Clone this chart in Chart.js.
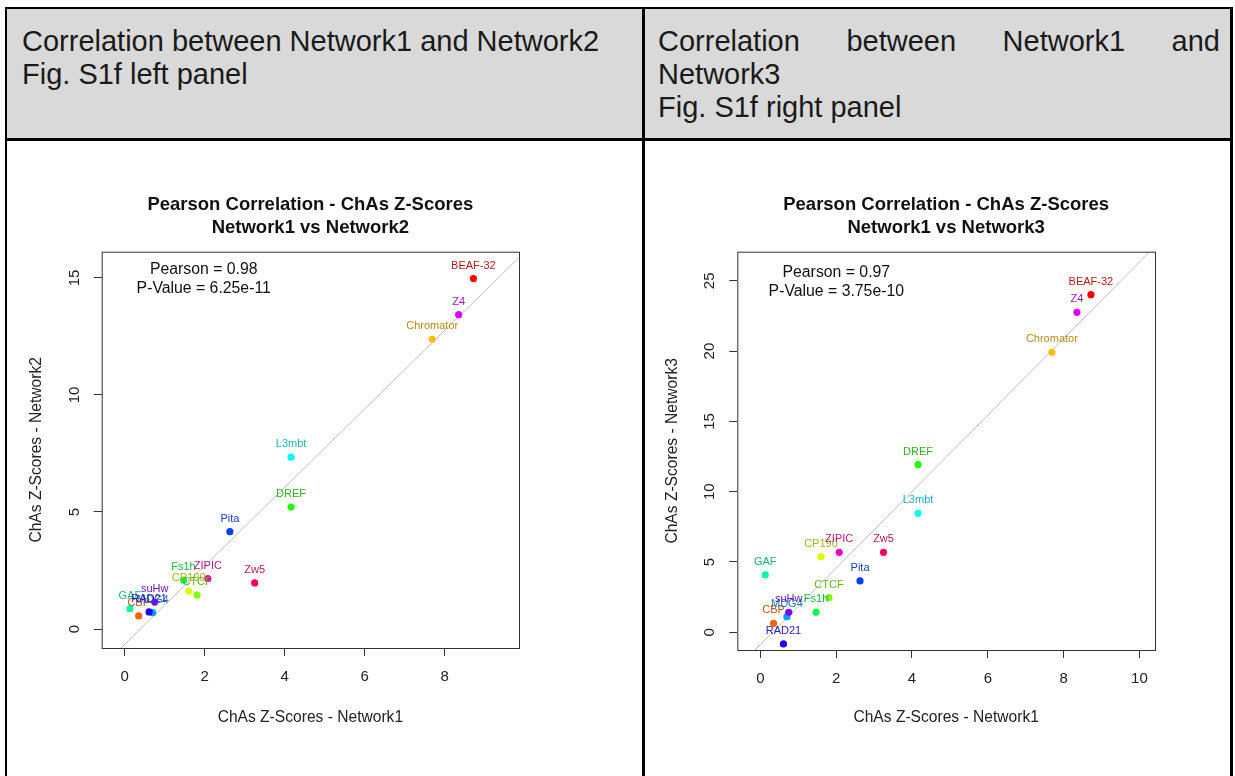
<!DOCTYPE html>
<html>
<head>
<meta charset="utf-8">
<script src="https://cdn.jsdelivr.net/npm/chart.js@4.4.1/dist/chart.umd.min.js"></script>
<style>
  body { margin: 0; background: #fff; width: 1235px; height: 776px; overflow: hidden; position: relative;
         font-family: "Liberation Sans", Arial, sans-serif; }
  .rule { position: absolute; background: #000; }
  .head { position: absolute; top: 9px; height: 129px; background: #d9d9d9; }
  .htxt { position: absolute; top: 25px; font-size: 29px; line-height: 33px; color: #1a1a1a; }
  .cell { position: absolute; top: 141px; height: 635px; }
</style>
</head>
<body>
<div class="head" style="left:7px;width:635px"></div>
<div class="head" style="left:645px;width:585px"></div>
<div class="htxt" style="left:22px;width:615px">Correlation between Network1 and Network2<br>Fig. S1f left panel</div>
<div class="htxt" style="left:658px;width:562px;text-align:justify">Correlation between Network1 and Network3<br>Fig. S1f right panel</div>

<div class="cell" style="left:7px;width:635px"><canvas id="chartLeft"></canvas></div>
<div class="cell" style="left:645px;width:585px"><canvas id="chartRight"></canvas></div>

<div class="rule" style="left:5px;top:7px;width:1228px;height:2px"></div>
<div class="rule" style="left:5px;top:138px;width:1228px;height:3px"></div>
<div class="rule" style="left:5px;top:7px;width:2px;height:769px"></div>
<div class="rule" style="left:642px;top:7px;width:3px;height:769px"></div>
<div class="rule" style="left:1230px;top:7px;width:3px;height:769px"></div>

<script>
// proteins in alphabetical order, coloured with R's rainbow(16)
const proteins = ['BEAF-32', 'CBP', 'Chromator', 'CP190', 'CTCF', 'DREF', 'Fs1h', 'GAF',
                  'L3mbt', 'MDG4', 'Pita', 'RAD21', 'suHw', 'Z4', 'ZIPIC', 'Zw5'];
const pointColors = ['#FF0000', '#FF6000', '#FFBF00', '#DFFF00', '#80FF00', '#20FF00', '#00FF40', '#00FF9F',
                     '#00FFFF', '#009FFF', '#0040FF', '#2000FF', '#8000FF', '#DF00FF', '#FF00BF', '#FF0060'];

// ChAs Z-scores
const network1 = [8.72, 0.35, 7.69, 1.60, 1.81, 4.16, 1.47, 0.13, 4.16, 0.70, 2.63, 0.61, 0.75, 8.35, 2.08, 3.25];
const network2 = [14.97, 0.56, 12.38, 1.61, 1.45, 5.21, 2.09, 0.87, 7.34, 0.70, 4.16, 0.73, 1.15, 13.43, 2.15, 1.97];
const network3 = [24.01, 0.64, 19.91, 5.38, 2.46, 11.92, 1.42, 4.08, 8.46, 1.11, 3.65, -0.83, 1.42, 22.76, 5.69, 5.69];

const xTicksLeft = [0, 2, 4, 6, 8];
const yTicksLeft = [0, 5, 10, 15];
const xTicksRight = [0, 2, 4, 6, 8, 10];
const yTicksRight = [0, 5, 10, 15, 20, 25];

const statsLeft = ['Pearson = 0.98', 'P-Value = 6.25e-11'];
const statsRight = ['Pearson = 0.97', 'P-Value = 3.75e-10'];

const FONT = '"Liberation Sans", Arial, sans-serif';

function labelColor(hex) {
  // darker shade of the point colour for the text labels
  const n = parseInt(hex.slice(1), 16);
  const mix = c => Math.round(c * 0.62 + 60 * 0.38);
  return `rgb(${mix(n >> 16)}, ${mix((n >> 8) & 255)}, ${mix(n & 255)})`;
}

function linearFit(xs, ys) {
  const mx = xs.reduce((s, v) => s + v, 0) / xs.length;
  const my = ys.reduce((s, v) => s + v, 0) / ys.length;
  let sxy = 0, sxx = 0;
  xs.forEach((v, i) => { sxy += (v - mx) * (ys[i] - my); sxx += (v - mx) * (v - mx); });
  const slope = sxy / sxx;
  return { slope, intercept: my - slope * mx };
}

const rStyle = {
  id: 'rStyle',
  afterDatasetsDraw(chart, args, opts) {
    const { ctx, scales: { x, y } } = chart;
    ctx.save();
    ctx.font = '11px ' + FONT;
    ctx.textAlign = 'center';
    ctx.textBaseline = 'middle';
    proteins.forEach((name, i) => {
      ctx.fillStyle = labelColor(pointColors[i]);
      ctx.fillText(name, x.getPixelForValue(opts.xs[i]), y.getPixelForValue(opts.ys[i]) - 13);
    });
    ctx.restore();
  },
  afterDraw(chart, args, opts) {
    const { ctx, chartArea: a, scales: { y } } = chart;
    ctx.save();
    ctx.strokeStyle = '#333';
    ctx.lineWidth = 1;
    ctx.strokeRect(a.left + 0.5, a.top + 0.5, a.right - a.left, a.bottom - a.top);

    // vertical tick labels, as R draws them
    ctx.fillStyle = '#222';
    ctx.font = '15px ' + FONT;
    ctx.textAlign = 'center';
    ctx.textBaseline = 'middle';
    opts.yTicks.forEach(v => {
      ctx.save();
      ctx.translate(a.left - 27, y.getPixelForValue(v));
      ctx.rotate(-Math.PI / 2);
      ctx.fillText(String(v), 0, 0);
      ctx.restore();
    });

    ctx.font = '15.8px ' + FONT;
    ctx.fillStyle = '#111';
    opts.stats.forEach((t, i) => {
      ctx.fillText(t, a.left + opts.statsDx, a.top + opts.statsDy + i * 19);
    });
    ctx.restore();
  }
};

function makeChart(id, ys, cfg) {
  const fit = linearFit(network1, ys);
  const fitLine = [cfg.xMin, cfg.xMax].map(v => ({ x: v, y: fit.intercept + fit.slope * v }));

  return new Chart(document.getElementById(id), {
    type: 'scatter',
    data: {
      datasets: [{
        data: network1.map((v, i) => ({ x: v, y: ys[i] })),
        pointBackgroundColor: pointColors,
        pointBorderWidth: 0,
        pointRadius: 3.6,
        order: 1
      }, {
        data: fitLine,
        showLine: true,
        borderColor: '#bebebe',
        borderWidth: 1,
        pointRadius: 0,
        order: 2
      }]
    },
    options: {
      responsive: true,
      maintainAspectRatio: false,
      animation: false,
      events: [],
      layout: { padding: { left: 0, right: cfg.padRight, top: 0, bottom: 0 } },
      plugins: {
        legend: { display: false },
        tooltip: { enabled: false },
        title: {
          display: true,
          fullSize: false,
          text: ['Pearson Correlation - ChAs Z-Scores', cfg.subtitle],
          color: '#111',
          font: { family: FONT, size: 18.5, weight: 'bold', lineHeight: 23 / 18.5 },
          padding: { top: 52.5, bottom: 12.2 }
        },
        rStyle: { xs: network1, ys: ys, yTicks: cfg.yTicks, stats: cfg.stats,
                  statsDx: cfg.statsDx, statsDy: cfg.statsDy }
      },
      scales: {
        x: {
          type: 'linear',
          min: cfg.xMin,
          max: cfg.xMax,
          afterBuildTicks: s => { s.ticks = cfg.xTicks.map(v => ({ value: v })); },
          afterFit: s => { s.height = cfg.xHeight; },
          border: { display: false },
          grid: { drawOnChartArea: false, drawTicks: true, tickLength: 8, color: '#333' },
          ticks: { color: '#222', font: { family: FONT, size: 15 }, padding: 12, maxRotation: 0, autoSkip: false },
          title: { display: true, text: 'ChAs Z-Scores - Network1', color: '#222',
                   font: { family: FONT, size: 15.6 }, padding: { top: 0, bottom: 49 } }
        },
        y: {
          type: 'linear',
          min: cfg.yMin,
          max: cfg.yMax,
          afterBuildTicks: s => { s.ticks = cfg.yTicks.map(v => ({ value: v })); },
          afterFit: s => { s.width = cfg.yWidth; },
          border: { display: false },
          grid: { drawOnChartArea: false, drawTicks: true, tickLength: 8, color: '#333' },
          ticks: { display: false },
          title: { display: true, text: cfg.yTitle, color: '#222',
                   font: { family: FONT, size: 15.6 }, padding: { top: cfg.yTitlePad, bottom: 0 } }
        }
      }
    },
    plugins: [rStyle]
  });
}

makeChart('chartLeft', network2, {
  subtitle: 'Network1 vs Network2', yTitle: 'ChAs Z-Scores - Network2',
  xMin: -0.575, xMax: 9.86, yMin: -0.81, yMax: 16.12,
  xTicks: xTicksLeft, yTicks: yTicksLeft, stats: statsLeft,
  padRight: 123, xHeight: 128, yWidth: 94.7, yTitlePad: 20,
  statsDx: 102, statsDy: 17.5
});

makeChart('chartRight', network3, {
  subtitle: 'Network1 vs Network3', yTitle: 'ChAs Z-Scores - Network3',
  xMin: -0.607, xMax: 10.41, yMin: -1.26, yMax: 27.07,
  xTicks: xTicksRight, yTicks: yTicksRight, stats: statsRight,
  padRight: 75, xHeight: 126, yWidth: 92.3, yTitlePad: 18,
  statsDx: 99, statsDy: 20.5
});
</script>
</body>
</html>
